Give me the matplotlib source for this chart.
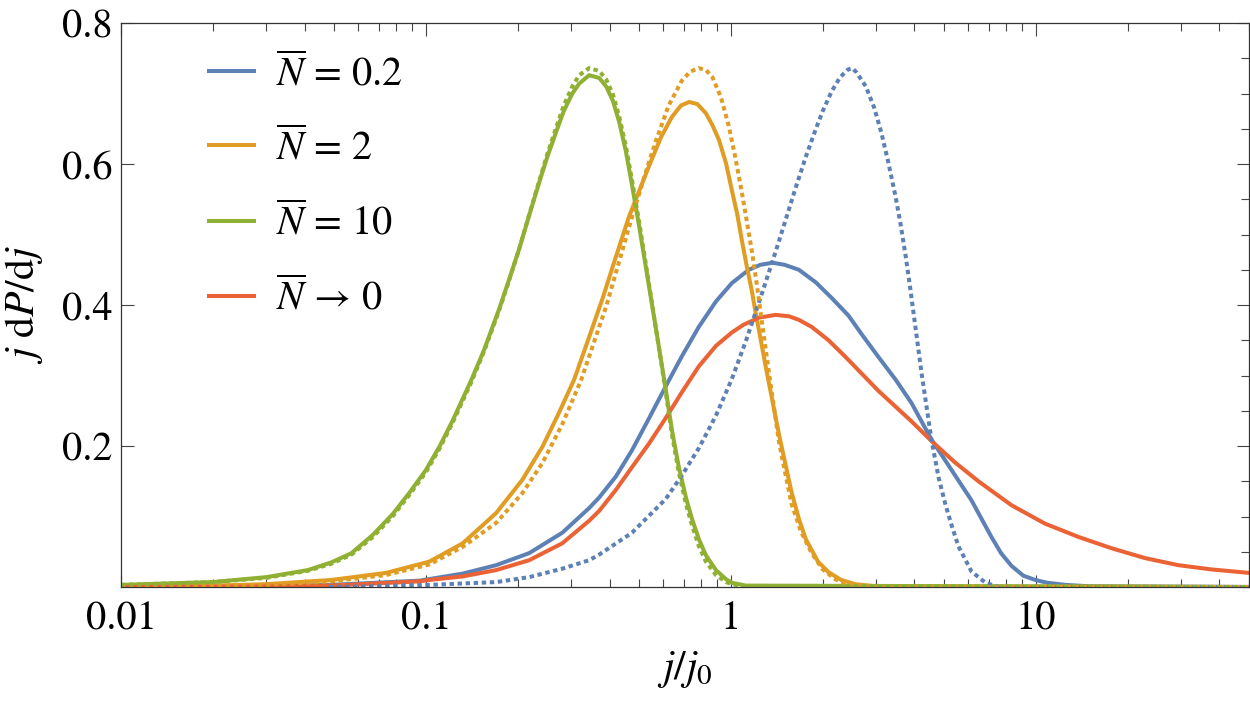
import numpy as np
import matplotlib
matplotlib.use("Agg")
import matplotlib.pyplot as plt
from matplotlib.ticker import LogLocator, MultipleLocator, FuncFormatter, NullFormatter

# values (x = j/j0, y = j dP/dj)
blue_x = [0.01, 0.03, 0.049, 0.0953, 0.132, 0.170, 0.218, 0.280, 0.343, 0.37, 0.42, 0.474, 0.54,
          0.612, 0.69, 0.785, 0.893, 1.007, 1.145, 1.25, 1.37, 1.5, 1.67, 1.90, 2.14, 2.43, 2.69,
          3.05, 3.47, 3.91, 4.55, 5.29, 6.15, 7.15, 7.69, 8.32, 9.1, 9.96, 10.9, 12.5, 15.0, 50.0]
blue_y = [0.0002, 0.001, 0.003, 0.009, 0.019, 0.031, 0.048, 0.077, 0.112, 0.127, 0.157, 0.194, 0.240,
          0.285, 0.327, 0.369, 0.405, 0.431, 0.450, 0.457, 0.460, 0.457, 0.450, 0.432, 0.410, 0.385, 0.358,
          0.326, 0.294, 0.261, 0.209, 0.166, 0.123, 0.071, 0.048, 0.030, 0.016, 0.010, 0.006, 0.003, 0.001, 0.0]

orange_x = [0.01, 0.02, 0.03, 0.049, 0.074, 0.1026, 0.132, 0.170, 0.207, 0.241, 0.273, 0.306,
            0.34, 0.38, 0.415, 0.463, 0.54, 0.59, 0.641, 0.686, 0.73, 0.776, 0.828, 0.87, 0.914,
            0.964, 1.007, 1.05, 1.086, 1.125, 1.17, 1.21, 1.235, 1.30, 1.44, 1.58, 1.67, 1.76,
            1.93, 2.09, 2.3, 2.56, 3.0, 50.0]
orange_y = [0.0005, 0.002, 0.004, 0.010, 0.020, 0.036, 0.062, 0.105, 0.152, 0.199, 0.247, 0.294,
            0.350, 0.410, 0.462, 0.525, 0.598, 0.638, 0.667, 0.683, 0.688, 0.685, 0.672, 0.655, 0.634,
            0.601, 0.563, 0.528, 0.492, 0.457, 0.421, 0.385, 0.365, 0.313, 0.215, 0.135, 0.097, 0.068,
            0.036, 0.021, 0.010, 0.004, 0.001, 0.0]

green_x = [0.01, 0.02, 0.03, 0.041, 0.049, 0.057, 0.067, 0.078, 0.088, 0.1, 0.111, 0.122, 0.141,
           0.155, 0.174, 0.188, 0.202, 0.218, 0.236, 0.25, 0.267, 0.283, 0.302, 0.318, 0.343, 0.370,
           0.39, 0.41, 0.43, 0.452, 0.474, 0.50, 0.527, 0.568, 0.59, 0.612, 0.641, 0.675, 0.713,
           0.745, 0.785, 0.828, 0.893, 0.964, 1.007, 1.12, 50.0]
green_y = [0.003, 0.007, 0.014, 0.024, 0.035, 0.048, 0.074, 0.104, 0.133, 0.166, 0.200, 0.235, 0.294,
           0.336, 0.395, 0.438, 0.479, 0.527, 0.576, 0.610, 0.645, 0.675, 0.700, 0.714, 0.726, 0.722,
           0.710, 0.690, 0.660, 0.619, 0.570, 0.512, 0.452, 0.366, 0.322, 0.279, 0.222, 0.170, 0.126,
           0.097, 0.068, 0.045, 0.024, 0.011, 0.006, 0.002, 0.0]

red_x = [0.01, 0.03, 0.049, 0.095, 0.1026, 0.132, 0.170, 0.218, 0.280, 0.343, 0.37, 0.42, 0.474,
         0.54, 0.612, 0.69, 0.785, 0.893, 1.007, 1.1, 1.235, 1.40, 1.55, 1.67, 1.84, 2.09, 2.38,
         3.05, 3.91, 4.55, 5.42, 6.48, 8.32, 10.7, 13.8, 17.7, 22.8, 29.3, 37.5, 50.0]
red_y = [0.0001, 0.0007, 0.002, 0.008, 0.010, 0.015, 0.024, 0.038, 0.062, 0.094, 0.108, 0.138, 0.170,
         0.204, 0.240, 0.276, 0.313, 0.342, 0.361, 0.372, 0.382, 0.386, 0.384, 0.379, 0.369, 0.350, 0.326,
         0.278, 0.235, 0.207, 0.177, 0.150, 0.116, 0.090, 0.071, 0.055, 0.041, 0.031, 0.025, 0.020]

# dotted companions
blue_dot_x = [0.048, 0.1026, 0.170, 0.218, 0.280, 0.343, 0.37, 0.474, 0.612, 0.69, 0.785, 0.893,
              1.007, 1.12, 1.25, 1.40, 1.51, 1.63, 1.76, 1.90, 2.0, 2.14, 2.28, 2.42, 2.5, 2.58,
              2.77, 2.95, 3.12, 3.28, 3.47, 3.6, 3.74, 3.87, 4.03, 4.22, 4.55, 4.8, 5.06, 5.29,
              5.57, 6.15, 6.84, 7.54, 50.0]
blue_dot_y = [0.0, 0.003, 0.007, 0.014, 0.026, 0.038, 0.046, 0.077, 0.125, 0.158, 0.197, 0.243,
              0.295, 0.349, 0.410, 0.475, 0.520, 0.566, 0.610, 0.650, 0.675, 0.703, 0.723, 0.734, 0.736, 0.730,
              0.710, 0.680, 0.643, 0.603, 0.553, 0.515, 0.470, 0.425, 0.368, 0.303, 0.208, 0.155, 0.116, 0.088,
              0.058, 0.022, 0.006, 0.0, 0.0]

orange_dot_x = [0.01, 0.02, 0.03, 0.049, 0.074, 0.1026, 0.132, 0.170, 0.207, 0.241, 0.280, 0.323,
                0.39, 0.474, 0.53, 0.568, 0.625, 0.69, 0.735, 0.785, 0.83, 0.87, 0.927, 0.984, 1.03,
                1.086, 1.17, 1.22, 1.26, 1.35, 1.44, 1.58, 1.70, 1.84, 2.0, 2.2, 2.38, 2.9, 50.0]
orange_dot_y = [0.0003, 0.0015, 0.003, 0.008, 0.017, 0.032, 0.057, 0.091, 0.133, 0.176, 0.231, 0.294,
                0.398, 0.525, 0.593, 0.633, 0.683, 0.718, 0.731, 0.736, 0.733, 0.723, 0.695, 0.654, 0.613,
                0.560, 0.478, 0.425, 0.380, 0.287, 0.204, 0.118, 0.078, 0.048, 0.025, 0.011, 0.005, 0.0, 0.0]

green_dot_x = [0.01, 0.02, 0.03, 0.041, 0.049, 0.057, 0.067, 0.078, 0.088, 0.1, 0.111, 0.122, 0.141,
               0.155, 0.174, 0.188, 0.202, 0.218, 0.236, 0.25, 0.267, 0.283, 0.302, 0.318, 0.343, 0.370,
               0.39, 0.41, 0.43, 0.452, 0.474, 0.50, 0.527, 0.568, 0.59, 0.612, 0.641, 0.675, 0.713,
               0.745, 0.785, 0.828, 0.893, 0.964, 1.007, 1.1, 50.0]
green_dot_y = [0.003, 0.007, 0.013, 0.023, 0.033, 0.046, 0.071, 0.101, 0.130, 0.163, 0.197, 0.232, 0.291,
               0.334, 0.393, 0.437, 0.479, 0.528, 0.578, 0.614, 0.651, 0.683, 0.710, 0.726, 0.736, 0.732,
               0.720, 0.699, 0.668, 0.626, 0.577, 0.518, 0.456, 0.366, 0.320, 0.275, 0.216, 0.162, 0.117,
               0.088, 0.058, 0.036, 0.017, 0.007, 0.004, 0.001, 0.0]

labels = [r"$\overline{N}$ = 0.2", r"$\overline{N}$ = 2", r"$\overline{N}$ = 10", r"$\overline{N}$ → 0"]

c_blue = "#5E81B5"
c_orange = "#E19C24"
c_green = "#8FB032"
c_red = "#EB6235"

plt.rcParams["font.family"] = "STIXGeneral"
plt.rcParams["mathtext.fontset"] = "stix"

fig = plt.figure(figsize=(12.5, 7.03), dpi=100)
ax = fig.add_axes([121 / 1250, 116 / 703, 1128 / 1250, 564 / 703])

lw = 2.9
ax.plot(blue_x, blue_y, color=c_blue, lw=lw, label=labels[0])
ax.plot(orange_x, orange_y, color=c_orange, lw=lw, label=labels[1])
ax.plot(green_x, green_y, color=c_green, lw=lw, label=labels[2])
ax.plot(red_x, red_y, color=c_red, lw=lw, label=labels[3])

dots = (0, (1.1, 0.9))
ax.plot(blue_dot_x, blue_dot_y, color=c_blue, lw=lw, ls=dots)
ax.plot(orange_dot_x, orange_dot_y, color=c_orange, lw=lw, ls=dots)
ax.plot(green_dot_x, green_dot_y, color=c_green, lw=lw, ls=dots)

ax.set_xscale("log")
ax.set_xlim(0.01, 50)
ax.set_ylim(0, 0.8)

ax.set_xticks([0.01, 0.1, 1, 10])
ax.xaxis.set_major_formatter(FuncFormatter(lambda v, p: "{:g}".format(v)))
ax.xaxis.set_minor_locator(LogLocator(base=10, subs=np.arange(2, 10)))
ax.xaxis.set_minor_formatter(NullFormatter())
ax.set_yticks([0.2, 0.4, 0.6, 0.8])
ax.yaxis.set_major_formatter(FuncFormatter(lambda v, p: "{:.1f}".format(v)))
ax.yaxis.set_minor_locator(MultipleLocator(0.05))

ax.tick_params(which="both", direction="in", top=True, right=True, color="#444444",
               width=0.8, labelsize=29)
ax.tick_params(which="major", length=9)
ax.tick_params(which="minor", length=5.5, left=False)
ax.tick_params(axis="x", pad=10)
ax.tick_params(axis="y", pad=6)

for s in ax.spines.values():
    s.set_color("#333333")
    s.set_linewidth(0.9)

ax.set_xlabel(r"$j/j_0$", fontsize=30, labelpad=8)
ax.set_ylabel(r"$j\ \mathrm{d}P/\mathrm{d}j$", fontsize=30, labelpad=12)

ax.legend(loc="upper left", frameon=False, fontsize=29, handlelength=1.1,
          handletextpad=0.55, labelspacing=0.85, borderaxespad=0.0,
          bbox_to_anchor=(0.064, 0.975))

fig.savefig("out.png", dpi=100)
